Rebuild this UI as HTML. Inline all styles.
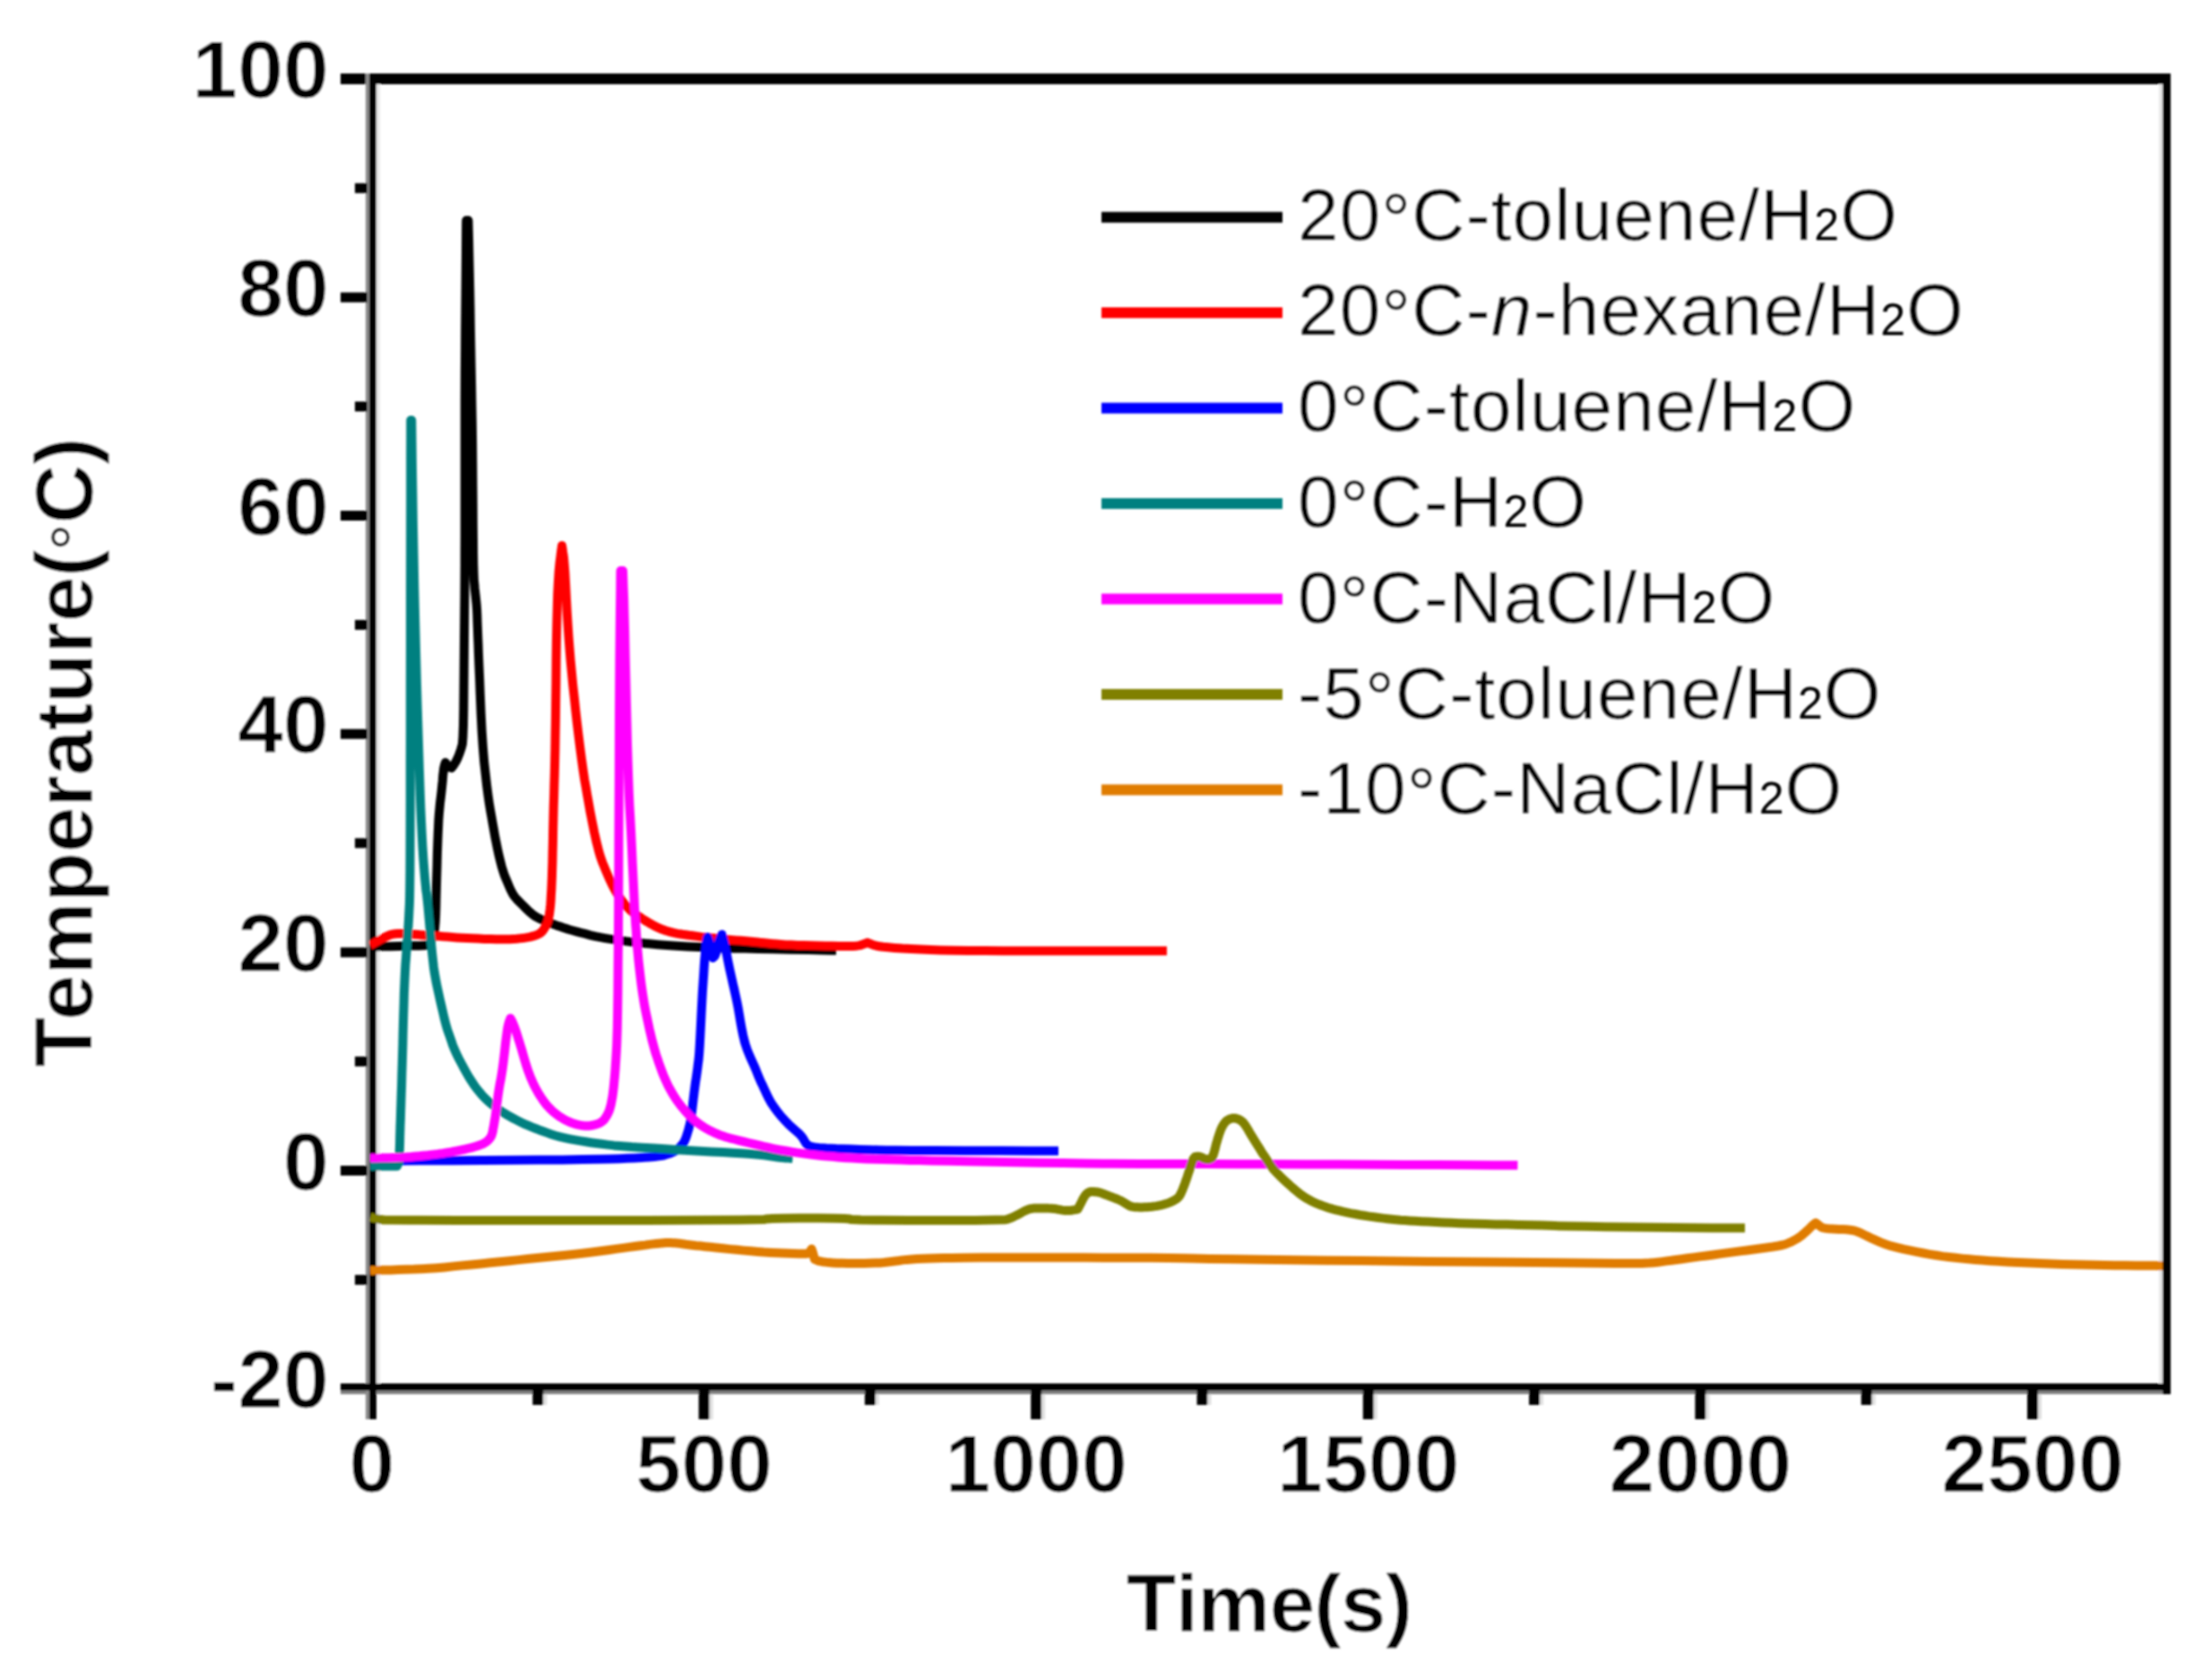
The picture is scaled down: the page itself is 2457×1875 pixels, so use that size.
<!DOCTYPE html>
<html lang="en"><head><meta charset="utf-8"><title>Temperature vs Time</title>
<style>html,body{margin:0;padding:0;background:#fff;overflow:hidden}svg{display:block}text{font-family:"Liberation Sans",Arial,Helvetica,sans-serif;fill:#000;font-kerning:none}.b{font-weight:bold;font-size:91.5px;stroke:#fff;stroke-width:.95px}.l{font-size:82px;letter-spacing:1.05px;stroke:#fff;stroke-width:.5px}.r{stroke-width:.5px}.n{stroke:none}</style></head><body>
<svg width="2457" height="1875" viewBox="0 0 2457 1875">
<rect width="2457" height="1875" fill="#fff"/>
<defs><filter id="soft" x="0" y="0" width="2457" height="1875" filterUnits="userSpaceOnUse"><feGaussianBlur stdDeviation="1.1"/></filter></defs>
<g filter="url(#soft)">
<g fill="#000">
<rect x="380" y="1552" width="2042" height="4" fill="#808080"/>
<rect x="380" y="82" width="2042" height="12"/>
<rect x="408" y="82" width="4" height="1502" fill="#8a8a8a"/>
<rect x="420" y="94" width="4" height="1450" fill="#e8e8e8"/>
<rect x="412" y="82" width="8" height="1502"/>
<rect x="2409" y="94" width="4" height="1450" fill="#e6e6e6"/>
<rect x="2413" y="82" width="9" height="1474"/>
<rect x="380" y="1544" width="2042" height="8"/>
<rect x="396" y="1422.9" width="14" height="11"/>
<rect x="380" y="1301.0" width="30" height="11"/>
<rect x="396" y="1179.2" width="14" height="11"/>
<rect x="380" y="1057.4" width="30" height="11"/>
<rect x="396" y="935.5" width="14" height="11"/>
<rect x="380" y="813.7" width="30" height="11"/>
<rect x="396" y="691.9" width="14" height="11"/>
<rect x="380" y="570.0" width="30" height="11"/>
<rect x="396" y="448.2" width="14" height="11"/>
<rect x="380" y="326.4" width="30" height="11"/>
<rect x="396" y="204.5" width="14" height="11"/>
<rect x="594.3" y="1550" width="12" height="18"/>
<rect x="606.3" y="1556" width="4" height="12" fill="#e0e0e0"/>
<rect x="779.6" y="1550" width="12" height="34"/>
<rect x="791.6" y="1556" width="4" height="28" fill="#e0e0e0"/>
<rect x="964.9" y="1550" width="12" height="18"/>
<rect x="976.9" y="1556" width="4" height="12" fill="#e0e0e0"/>
<rect x="1150.2" y="1550" width="12" height="34"/>
<rect x="1162.2" y="1556" width="4" height="28" fill="#e0e0e0"/>
<rect x="1335.5" y="1550" width="12" height="18"/>
<rect x="1347.5" y="1556" width="4" height="12" fill="#e0e0e0"/>
<rect x="1520.8" y="1550" width="12" height="34"/>
<rect x="1532.8" y="1556" width="4" height="28" fill="#e0e0e0"/>
<rect x="1706.1" y="1550" width="12" height="18"/>
<rect x="1718.1" y="1556" width="4" height="12" fill="#e0e0e0"/>
<rect x="1891.4" y="1550" width="12" height="34"/>
<rect x="1903.4" y="1556" width="4" height="28" fill="#e0e0e0"/>
<rect x="2076.7" y="1550" width="12" height="18"/>
<rect x="2088.7" y="1556" width="4" height="12" fill="#e0e0e0"/>
<rect x="2262.0" y="1550" width="12" height="34"/>
<rect x="2274.0" y="1556" width="4" height="28" fill="#e0e0e0"/>
</g>
<clipPath id="pa"><rect x="412" y="94" width="2001" height="1450"/></clipPath>
<g fill="none" stroke-width="10" stroke-linejoin="round" stroke-linecap="butt" clip-path="url(#pa)">
<path stroke="#000000" d="M413.0,1056.5 L415.3,1056.5 L419.9,1056.4 L426.9,1056.3 L436.1,1056.2 L444.8,1056.0 L452.9,1055.8 L460.5,1055.6 L467.5,1055.4 L472.8,1055.2 L476.2,1055.1 L478.0,1055.0 L478.4,1054.4 L479.1,1053.1 L480.2,1051.2 L481.8,1048.8 L483.0,1045.9 L484.0,1042.6 L484.8,1039.0 L485.2,1035.0 L485.7,1029.4 L486.1,1022.1 L486.4,1013.2 L486.6,1002.8 L486.9,991.5 L487.2,979.5 L487.6,966.8 L487.9,953.2 L488.3,941.4 L488.7,931.1 L489.1,922.5 L489.4,915.5 L489.9,908.7 L490.5,902.1 L491.1,895.6 L491.9,889.4 L492.6,883.2 L493.2,877.2 L493.8,871.4 L494.2,865.6 L494.8,860.9 L495.2,857.3 L495.8,854.8 L496.2,853.2 L496.6,852.1 L496.9,851.4 L497.0,851.0 L497.2,851.3 L497.6,851.9 L498.1,852.9 L498.9,854.1 L499.4,855.1 L499.8,855.7 L500.0,856.0 L500.2,856.1 L500.8,856.2 L501.5,856.4 L502.5,856.6 L503.2,856.8 L503.8,856.9 L504.0,857.0 L504.3,856.6 L504.9,855.7 L505.9,854.4 L507.1,852.6 L508.4,850.6 L509.6,848.2 L510.9,845.5 L512.1,842.5 L513.2,839.5 L514.2,836.5 L515.1,833.5 L515.9,830.5 L516.5,822.6 L517.0,809.7 L517.3,791.9 L517.5,769.1 L517.7,746.8 L517.9,724.8 L518.1,703.1 L518.3,681.9 L518.5,662.8 L518.6,645.9 L518.7,631.2 L518.7,618.8 L518.8,598.1 L518.8,569.4 L518.8,532.5 L518.8,487.5 L518.8,448.8 L518.9,416.2 L519.1,390.0 L519.2,370.0 L519.4,349.1 L519.6,327.4 L519.8,304.8 L520.0,281.2 L520.1,263.6 L520.2,251.9 L520.3,246.0 L520.4,246.0 L520.7,246.0 L521.1,246.0 L521.7,246.0 L522.1,246.0 L522.4,246.0 L522.5,246.0 L522.6,250.0 L522.8,258.0 L523.1,270.0 L523.4,286.0 L523.8,303.6 L524.2,322.9 L524.6,343.8 L524.9,366.2 L525.3,388.1 L525.7,409.4 L526.1,430.0 L526.4,450.0 L526.8,471.2 L527.1,493.8 L527.3,517.5 L527.5,542.5 L527.7,565.0 L527.8,585.0 L528.0,602.5 L528.1,617.5 L528.3,630.0 L528.6,640.0 L528.9,647.5 L529.4,652.5 L529.8,657.2 L530.3,661.8 L530.8,666.0 L531.2,670.0 L531.7,674.8 L532.1,680.4 L532.4,686.9 L532.6,694.1 L532.9,701.9 L533.2,710.3 L533.6,719.2 L533.9,728.8 L534.4,741.2 L535.1,756.8 L535.8,775.2 L536.7,796.8 L537.7,816.4 L538.9,834.3 L540.2,850.4 L541.8,864.6 L543.2,877.1 L544.6,887.9 L545.9,896.9 L547.1,904.1 L548.4,911.3 L549.6,918.4 L550.9,925.5 L552.1,932.5 L553.5,939.5 L554.9,946.5 L556.4,953.5 L558.1,960.5 L559.7,966.8 L561.3,972.2 L562.9,977.0 L564.6,981.0 L566.2,984.8 L567.7,988.4 L569.2,991.9 L570.8,995.1 L572.4,998.1 L574.3,1000.9 L576.4,1003.4 L578.6,1005.6 L581.0,1008.0 L583.5,1010.5 L586.1,1013.1 L588.9,1015.9 L591.4,1018.2 L593.8,1020.2 L596.0,1021.9 L598.0,1023.1 L600.4,1024.4 L603.3,1025.8 L606.6,1027.2 L610.4,1028.8 L614.1,1030.2 L617.7,1031.6 L621.2,1032.9 L624.8,1034.1 L628.2,1035.3 L631.8,1036.4 L635.2,1037.5 L638.8,1038.5 L642.9,1039.6 L647.6,1040.9 L653.0,1042.2 L659.0,1043.8 L664.7,1045.1 L670.1,1046.2 L675.1,1047.1 L679.9,1047.9 L684.9,1048.6 L690.1,1049.4 L695.6,1050.1 L701.4,1050.9 L708.1,1051.7 L715.7,1052.5 L724.2,1053.3 L733.8,1054.2 L744.1,1055.0 L755.4,1055.8 L767.5,1056.4 L780.5,1057.1 L793.4,1057.6 L806.1,1058.0 L818.8,1058.4 L831.2,1058.6 L845.8,1058.9 L862.4,1059.3 L881.1,1059.7 L901.9,1060.1 L917.4,1060.5 L927.8,1060.7 L933.0,1060.8"/>
<path stroke="#FF0000" d="M413.0,1055.0 L413.6,1054.7 L414.7,1054.1 L416.4,1053.1 L418.6,1051.9 L420.9,1050.6 L423.1,1049.4 L425.4,1048.1 L427.6,1046.9 L429.8,1045.8 L431.9,1044.8 L434.0,1043.9 L436.0,1043.1 L438.3,1042.6 L440.9,1042.2 L443.9,1042.0 L447.1,1042.0 L450.5,1042.1 L454.0,1042.2 L457.6,1042.5 L461.4,1042.8 L465.4,1043.1 L469.8,1043.4 L474.5,1043.8 L479.5,1044.1 L484.5,1044.4 L489.5,1044.8 L494.5,1045.2 L499.5,1045.6 L504.7,1046.0 L510.1,1046.4 L515.6,1046.8 L521.4,1047.1 L527.4,1047.3 L533.8,1047.6 L540.5,1047.9 L547.5,1048.1 L553.8,1048.3 L559.4,1048.3 L564.4,1048.3 L568.6,1048.2 L572.6,1048.0 L576.4,1047.8 L579.9,1047.4 L583.1,1047.1 L586.2,1046.6 L589.1,1046.1 L591.8,1045.6 L594.2,1044.9 L596.5,1044.3 L598.5,1043.6 L600.2,1042.9 L601.8,1042.1 L603.2,1041.1 L604.6,1039.9 L605.9,1038.4 L607.1,1036.6 L608.2,1034.8 L609.2,1032.9 L610.1,1031.0 L610.9,1029.0 L611.6,1026.8 L612.2,1024.2 L612.8,1021.5 L613.2,1018.5 L613.7,1014.8 L614.2,1010.2 L614.6,1005.0 L614.9,999.0 L615.3,992.6 L615.6,985.9 L615.9,978.8 L616.1,971.2 L616.4,962.3 L616.6,951.9 L616.9,940.1 L617.1,926.9 L617.4,913.8 L617.7,900.9 L618.1,888.2 L618.4,875.8 L618.8,862.8 L619.1,849.4 L619.4,835.6 L619.6,821.4 L619.9,804.4 L620.1,784.8 L620.4,762.5 L620.6,737.5 L620.9,715.0 L621.3,695.0 L621.8,677.5 L622.2,662.5 L622.9,649.3 L623.6,637.9 L624.5,628.4 L625.5,620.6 L626.2,614.8 L626.8,610.9 L627.0,609.0 L627.2,610.2 L627.6,612.8 L628.1,616.5 L628.9,621.5 L629.6,629.1 L630.4,639.4 L631.1,652.2 L631.9,667.8 L632.7,682.6 L633.6,696.9 L634.5,710.5 L635.5,723.5 L636.6,736.8 L637.9,750.4 L639.2,764.4 L640.8,778.6 L642.3,792.9 L643.9,807.1 L645.6,821.4 L647.4,835.6 L649.1,848.5 L650.7,860.0 L652.2,870.1 L653.8,878.9 L655.1,886.8 L656.4,893.9 L657.5,900.2 L658.5,905.8 L659.6,911.4 L660.7,917.1 L661.9,923.0 L663.1,929.0 L664.4,934.7 L665.6,940.1 L666.9,945.1 L668.1,949.9 L669.4,954.4 L670.8,958.6 L672.2,962.6 L673.8,966.4 L675.4,970.3 L677.1,974.4 L679.0,978.8 L681.0,983.2 L683.0,987.4 L685.0,991.3 L687.0,994.9 L689.0,998.1 L691.1,1001.2 L693.2,1004.2 L695.4,1007.1 L697.6,1009.9 L699.8,1012.3 L701.8,1014.4 L703.6,1016.1 L705.4,1017.6 L707.2,1019.0 L709.1,1020.3 L711.0,1021.7 L713.0,1023.0 L715.0,1024.3 L717.0,1025.6 L719.0,1026.9 L721.0,1028.1 L723.0,1029.3 L725.0,1030.5 L727.0,1031.6 L729.0,1032.7 L731.0,1033.7 L733.0,1034.7 L735.0,1035.6 L737.0,1036.5 L739.0,1037.3 L741.0,1038.0 L743.0,1038.7 L745.0,1039.3 L747.0,1039.9 L749.0,1040.4 L751.0,1040.9 L753.0,1041.3 L755.4,1041.8 L758.1,1042.3 L761.2,1042.8 L764.8,1043.2 L768.6,1043.8 L772.9,1044.3 L777.5,1044.9 L782.5,1045.6 L787.7,1046.2 L793.1,1046.8 L798.6,1047.3 L804.4,1047.9 L810.1,1048.4 L815.7,1048.9 L821.2,1049.4 L826.8,1049.8 L832.1,1050.3 L837.4,1050.8 L842.5,1051.2 L847.5,1051.8 L852.4,1052.2 L857.1,1052.7 L861.8,1053.2 L866.2,1053.6 L871.3,1054.0 L876.9,1054.4 L883.1,1054.6 L889.9,1054.9 L897.1,1055.1 L904.7,1055.3 L912.8,1055.5 L921.2,1055.7 L928.9,1055.8 L935.8,1056.0 L941.9,1056.0 L947.1,1056.0 L951.5,1055.9 L955.0,1055.7 L957.6,1055.4 L959.4,1055.1 L961.1,1054.6 L962.7,1054.1 L964.2,1053.6 L965.8,1052.9 L966.9,1052.5 L967.6,1052.2 L968.0,1052.0 L968.4,1052.2 L969.3,1052.6 L970.6,1053.1 L972.4,1053.9 L974.3,1054.6 L976.4,1055.2 L978.8,1055.8 L981.2,1056.2 L985.3,1056.8 L990.9,1057.3 L998.1,1057.9 L1006.9,1058.6 L1016.4,1059.1 L1026.8,1059.6 L1038.0,1060.1 L1050.0,1060.4 L1064.1,1060.7 L1080.4,1061.0 L1098.8,1061.1 L1119.2,1061.2 L1144.1,1061.2 L1173.4,1061.3 L1207.0,1061.3 L1245.0,1061.3 L1273.5,1061.3 L1292.5,1061.3 L1302.0,1061.3"/>
<path stroke="#0000FF" d="M413.0,1295.5 L422.2,1295.5 L440.6,1295.4 L468.1,1295.3 L504.9,1295.2 L539.2,1295.0 L571.1,1294.8 L600.5,1294.6 L627.5,1294.4 L650.1,1294.1 L668.2,1293.8 L681.9,1293.5 L691.1,1293.2 L699.9,1292.8 L708.3,1292.4 L716.2,1292.0 L723.8,1291.5 L730.1,1291.0 L735.2,1290.4 L739.1,1289.8 L741.9,1289.1 L744.4,1288.3 L746.8,1287.5 L749.0,1286.7 L751.0,1285.8 L752.9,1284.8 L754.6,1283.7 L756.2,1282.4 L757.8,1281.1 L759.1,1279.7 L760.4,1278.4 L761.5,1277.1 L762.5,1275.8 L763.5,1274.0 L764.5,1271.9 L765.5,1269.4 L766.5,1266.4 L767.4,1263.4 L768.3,1260.4 L769.1,1257.4 L769.9,1254.3 L770.7,1249.8 L771.6,1244.0 L772.5,1236.7 L773.5,1228.0 L774.4,1220.3 L775.3,1213.4 L776.1,1207.5 L776.9,1202.5 L777.6,1197.5 L778.3,1192.4 L778.9,1187.4 L779.6,1182.3 L780.2,1175.2 L780.8,1165.9 L781.4,1154.6 L782.1,1141.1 L782.7,1128.6 L783.3,1116.9 L783.9,1106.0 L784.6,1096.0 L785.2,1086.9 L785.7,1078.8 L786.2,1071.6 L786.8,1065.4 L787.2,1060.1 L787.8,1055.7 L788.2,1052.2 L788.8,1049.8 L789.1,1047.9 L789.4,1046.6 L789.5,1046.0 L789.7,1046.4 L790.0,1047.3 L790.4,1048.6 L791.1,1050.4 L791.8,1052.7 L792.5,1055.6 L793.3,1059.0 L794.2,1063.0 L794.8,1066.0 L795.3,1068.0 L795.5,1069.0 L795.7,1068.8 L796.1,1068.4 L796.6,1067.9 L797.4,1067.1 L798.2,1065.6 L799.0,1063.4 L799.8,1060.4 L800.7,1056.6 L801.6,1053.3 L802.4,1050.4 L803.3,1048.0 L804.2,1046.0 L804.8,1044.5 L805.3,1043.5 L805.5,1043.0 L805.7,1043.8 L806.2,1045.4 L806.8,1047.9 L807.7,1051.1 L808.7,1055.1 L809.7,1059.9 L810.9,1065.4 L812.1,1071.6 L813.3,1077.6 L814.5,1083.2 L815.7,1088.5 L816.8,1093.5 L817.9,1098.5 L819.1,1103.5 L820.2,1108.5 L821.3,1113.5 L822.4,1118.6 L823.4,1123.7 L824.3,1128.9 L825.2,1134.1 L826.0,1139.1 L826.8,1143.7 L827.6,1148.0 L828.4,1152.0 L829.2,1155.8 L830.0,1159.2 L830.8,1162.5 L831.7,1165.5 L832.7,1168.5 L833.7,1171.5 L834.9,1174.5 L836.1,1177.5 L837.3,1180.3 L838.4,1182.8 L839.5,1185.2 L840.5,1187.3 L841.6,1189.7 L842.7,1192.3 L843.9,1195.2 L845.1,1198.3 L846.4,1201.5 L847.8,1204.7 L849.2,1207.9 L850.8,1211.1 L852.2,1214.3 L853.8,1217.6 L855.2,1220.7 L856.8,1223.9 L858.3,1226.9 L859.9,1229.8 L861.6,1232.5 L863.4,1235.1 L865.1,1237.6 L866.9,1240.0 L868.6,1242.2 L870.4,1244.4 L872.2,1246.5 L874.1,1248.6 L876.0,1250.8 L878.0,1252.8 L879.9,1254.8 L881.8,1256.6 L883.6,1258.2 L885.4,1259.8 L887.0,1261.2 L888.5,1262.5 L889.9,1263.7 L891.1,1264.8 L892.3,1265.9 L893.3,1267.1 L894.3,1268.2 L895.2,1269.3 L896.0,1270.5 L896.8,1271.7 L897.4,1272.9 L898.1,1274.1 L898.8,1275.3 L899.6,1276.3 L900.5,1277.3 L901.5,1278.2 L903.0,1279.0 L905.0,1279.6 L907.5,1280.2 L910.5,1280.6 L913.9,1281.0 L917.8,1281.3 L922.1,1281.6 L926.9,1281.7 L933.0,1282.0 L940.5,1282.2 L949.4,1282.6 L959.6,1282.9 L969.8,1283.2 L979.8,1283.5 L989.6,1283.7 L999.4,1283.8 L1017.1,1283.9 L1042.9,1284.1 L1076.6,1284.2 L1118.4,1284.3 L1149.7,1284.4 L1170.6,1284.5 L1181.0,1284.5"/>
<path stroke="#008080" d="M413.0,1301.5 L414.9,1301.5 L418.6,1301.5 L424.2,1301.5 L431.8,1301.5 L437.4,1301.5 L441.1,1301.5 L443.0,1301.5 L443.1,1301.2 L443.4,1300.7 L443.8,1299.8 L444.4,1298.7 L444.8,1297.1 L445.2,1295.0 L445.4,1292.5 L445.6,1289.5 L445.7,1285.7 L445.9,1281.1 L446.1,1275.6 L446.2,1269.4 L446.4,1262.8 L446.6,1255.9 L446.9,1248.8 L447.1,1241.2 L447.4,1232.5 L447.7,1222.5 L448.1,1211.2 L448.4,1198.8 L448.8,1186.9 L449.1,1175.6 L449.4,1165.0 L449.6,1155.0 L449.9,1144.4 L450.2,1133.1 L450.6,1121.2 L450.9,1108.8 L451.4,1097.2 L451.9,1086.6 L452.4,1076.9 L453.1,1068.1 L453.7,1059.4 L454.3,1050.6 L454.9,1041.9 L455.6,1033.1 L456.1,1024.7 L456.5,1016.6 L456.9,1008.8 L457.1,1001.2 L457.3,988.8 L457.5,971.2 L457.6,948.8 L457.7,921.2 L457.8,889.4 L457.8,853.1 L457.9,812.5 L457.9,767.5 L458.0,719.3 L458.0,667.9 L458.1,613.4 L458.2,555.6 L458.2,512.3 L458.3,483.4 L458.3,469.0 L458.4,469.0 L458.5,469.0 L458.7,469.0 L458.9,469.0 L459.1,469.0 L459.2,469.0 L459.3,469.0 L459.4,477.2 L459.6,493.6 L459.9,518.1 L460.4,550.9 L460.9,584.8 L461.6,619.9 L462.3,656.2 L463.2,693.8 L464.1,730.0 L465.0,765.0 L466.0,798.8 L467.0,831.2 L467.9,859.4 L468.7,883.1 L469.4,902.5 L470.1,917.5 L470.8,931.7 L471.5,945.1 L472.3,957.6 L473.2,969.4 L474.0,979.3 L474.8,987.4 L475.4,993.8 L476.1,998.2 L476.7,1003.9 L477.4,1010.6 L478.1,1018.4 L478.9,1027.3 L479.7,1036.3 L480.5,1045.5 L481.3,1054.7 L482.2,1064.0 L483.1,1072.3 L483.9,1079.4 L484.8,1085.5 L485.7,1090.5 L486.6,1095.5 L487.6,1100.5 L488.7,1105.5 L489.8,1110.5 L491.0,1116.0 L492.4,1122.0 L493.9,1128.5 L495.5,1135.5 L497.0,1141.4 L498.3,1146.3 L499.5,1150.1 L500.5,1152.9 L501.6,1155.9 L502.7,1159.1 L503.9,1162.6 L505.1,1166.4 L506.9,1170.7 L509.1,1175.7 L511.8,1181.2 L515.0,1187.3 L518.0,1192.9 L520.9,1198.1 L523.6,1202.7 L526.2,1206.8 L528.8,1210.8 L531.6,1214.6 L534.5,1218.2 L537.5,1221.8 L540.4,1224.9 L543.3,1227.8 L546.1,1230.3 L548.9,1232.5 L551.4,1234.5 L553.8,1236.3 L556.0,1238.0 L558.0,1239.4 L560.3,1241.0 L562.9,1242.6 L565.9,1244.4 L569.1,1246.2 L572.4,1248.0 L575.6,1249.7 L578.9,1251.4 L582.1,1253.0 L585.6,1254.6 L589.4,1256.2 L593.4,1257.9 L597.6,1259.5 L601.9,1261.2 L606.3,1262.8 L610.8,1264.4 L615.2,1266.0 L620.1,1267.5 L625.2,1268.9 L630.6,1270.1 L636.4,1271.3 L642.1,1272.4 L647.9,1273.4 L653.6,1274.3 L659.4,1275.2 L665.4,1276.0 L671.6,1276.8 L678.1,1277.6 L684.9,1278.4 L691.6,1279.0 L698.3,1279.6 L704.9,1280.1 L711.6,1280.4 L719.9,1280.9 L729.9,1281.6 L741.6,1282.3 L754.9,1283.2 L768.2,1284.0 L781.2,1284.8 L794.1,1285.4 L806.9,1286.1 L817.9,1286.7 L827.3,1287.2 L835.0,1287.8 L841.0,1288.2 L846.8,1288.8 L852.2,1289.4 L857.5,1290.1 L862.5,1290.9 L867.2,1291.5 L871.5,1292.0 L875.4,1292.4 L879.1,1292.6 L881.8,1292.8 L883.6,1292.9 L884.5,1293.0"/>
<path stroke="#FF00FF" d="M413.0,1292.5 L415.0,1292.5 L419.0,1292.4 L425.0,1292.3 L433.0,1292.2 L440.4,1292.0 L447.1,1291.8 L453.2,1291.4 L458.8,1291.1 L464.2,1290.6 L469.6,1290.1 L474.9,1289.6 L480.1,1288.9 L484.7,1288.4 L488.6,1287.9 L491.8,1287.4 L494.2,1287.1 L497.0,1286.6 L500.0,1286.1 L503.2,1285.6 L506.8,1284.9 L510.0,1284.3 L513.0,1283.8 L515.8,1283.2 L518.2,1282.8 L520.6,1282.2 L522.9,1281.7 L525.0,1281.2 L527.0,1280.6 L528.9,1280.1 L530.8,1279.5 L532.6,1278.9 L534.4,1278.4 L536.0,1277.8 L537.5,1277.2 L538.9,1276.6 L540.1,1275.9 L541.3,1275.2 L542.4,1274.5 L543.5,1273.7 L544.5,1272.8 L545.4,1271.9 L546.3,1270.8 L547.1,1269.7 L547.9,1268.5 L548.6,1266.9 L549.2,1265.0 L549.8,1262.7 L550.2,1260.0 L550.8,1257.2 L551.3,1254.2 L551.8,1251.1 L552.4,1247.9 L553.0,1243.9 L553.6,1239.3 L554.2,1234.0 L555.0,1228.0 L555.8,1222.0 L556.7,1216.0 L557.7,1210.0 L558.9,1204.0 L559.9,1198.0 L560.8,1192.0 L561.6,1186.0 L562.3,1180.0 L563.0,1174.2 L563.6,1168.6 L564.2,1163.1 L564.9,1157.9 L565.5,1153.4 L566.0,1149.6 L566.5,1146.6 L567.0,1144.4 L567.5,1142.4 L568.0,1140.7 L568.4,1139.3 L568.9,1138.2 L569.2,1137.3 L569.4,1136.8 L569.5,1136.5 L569.7,1136.8 L570.0,1137.3 L570.4,1138.2 L571.1,1139.3 L571.8,1140.7 L572.5,1142.4 L573.3,1144.4 L574.2,1146.6 L575.1,1149.1 L576.0,1151.7 L576.9,1154.5 L577.8,1157.5 L578.7,1160.4 L579.6,1163.1 L580.4,1165.8 L581.1,1168.2 L581.9,1170.8 L582.7,1173.5 L583.5,1176.3 L584.3,1179.2 L585.1,1182.0 L586.0,1184.8 L586.8,1187.6 L587.7,1190.4 L588.6,1193.1 L589.5,1195.8 L590.5,1198.4 L591.5,1201.1 L592.5,1203.6 L593.6,1206.1 L594.7,1208.6 L595.8,1210.9 L597.0,1213.2 L598.2,1215.5 L599.4,1217.7 L600.6,1219.8 L601.9,1221.9 L603.2,1224.0 L604.6,1226.0 L605.9,1228.0 L607.3,1229.9 L608.8,1231.8 L610.2,1233.6 L611.8,1235.2 L613.3,1236.9 L614.8,1238.4 L616.4,1239.9 L618.1,1241.4 L619.7,1242.7 L621.4,1244.0 L623.1,1245.3 L624.9,1246.5 L626.7,1247.6 L628.5,1248.7 L630.3,1249.8 L632.2,1250.7 L634.1,1251.6 L635.9,1252.4 L637.8,1253.2 L639.7,1253.8 L641.5,1254.4 L643.3,1254.9 L645.1,1255.3 L646.9,1255.7 L648.6,1256.0 L650.3,1256.2 L651.9,1256.4 L653.6,1256.5 L655.1,1256.5 L656.5,1256.5 L657.9,1256.4 L659.1,1256.2 L660.4,1256.0 L661.6,1255.8 L662.9,1255.6 L664.1,1255.2 L665.3,1254.9 L666.4,1254.5 L667.5,1254.1 L668.5,1253.7 L669.5,1253.2 L670.4,1252.6 L671.3,1252.1 L672.2,1251.4 L673.0,1250.8 L673.8,1250.0 L674.4,1249.2 L675.1,1248.3 L675.7,1247.3 L676.5,1246.1 L677.3,1244.8 L678.1,1243.2 L678.9,1241.6 L679.7,1239.7 L680.4,1237.6 L681.0,1235.4 L681.7,1232.9 L682.2,1230.1 L682.8,1227.1 L683.4,1223.9 L683.9,1220.2 L684.4,1216.2 L684.9,1211.9 L685.3,1207.1 L685.8,1202.3 L686.2,1197.4 L686.6,1192.5 L686.9,1187.5 L687.3,1181.8 L687.7,1175.2 L688.1,1168.0 L688.4,1160.0 L688.8,1147.3 L689.1,1129.9 L689.4,1107.8 L689.6,1080.9 L689.9,1050.8 L690.1,1017.3 L690.3,980.4 L690.4,940.3 L690.6,902.0 L690.8,865.7 L690.9,831.2 L691.0,798.8 L691.2,767.3 L691.4,736.9 L691.7,707.6 L692.0,679.4 L692.3,658.2 L692.4,644.1 L692.5,637.0 L692.7,637.0 L693.0,637.0 L693.4,637.0 L694.1,637.0 L694.5,637.0 L694.8,637.0 L695.0,637.0 L695.1,640.1 L695.3,646.2 L695.6,655.4 L696.1,667.6 L696.5,683.9 L697.1,704.3 L697.6,728.8 L698.3,757.2 L698.9,783.6 L699.5,807.9 L700.0,830.0 L700.6,850.0 L701.2,868.4 L701.8,885.0 L702.5,900.1 L703.3,913.5 L704.1,928.6 L704.9,945.3 L705.7,963.8 L706.7,983.8 L707.5,1000.7 L708.1,1014.2 L708.8,1024.5 L709.2,1031.5 L709.8,1038.3 L710.2,1045.0 L710.8,1051.6 L711.2,1057.9 L711.8,1064.4 L712.4,1071.1 L713.1,1077.8 L713.9,1084.7 L714.7,1091.5 L715.5,1098.2 L716.4,1104.8 L717.4,1111.2 L718.4,1117.7 L719.5,1124.1 L720.8,1130.4 L722.1,1136.6 L723.4,1142.8 L724.7,1148.8 L726.1,1154.6 L727.4,1160.4 L728.9,1165.9 L730.4,1171.3 L731.9,1176.5 L733.6,1181.5 L735.2,1186.4 L736.9,1191.1 L738.6,1195.7 L740.3,1200.1 L742.1,1204.3 L743.9,1208.3 L745.7,1212.1 L747.7,1215.7 L749.6,1219.1 L751.6,1222.5 L753.7,1225.7 L755.8,1228.9 L758.0,1231.9 L760.3,1234.9 L762.8,1237.9 L765.2,1240.7 L767.8,1243.5 L770.5,1246.2 L773.3,1248.8 L776.1,1251.2 L779.0,1253.6 L782.0,1255.8 L785.1,1257.8 L788.3,1259.7 L791.5,1261.5 L794.8,1263.1 L798.2,1264.7 L801.8,1266.2 L805.6,1267.6 L809.8,1269.0 L814.4,1270.3 L819.4,1271.5 L824.5,1272.8 L829.9,1274.1 L835.5,1275.5 L841.3,1276.9 L846.7,1278.2 L851.7,1279.4 L856.4,1280.4 L860.6,1281.4 L865.0,1282.3 L869.5,1283.2 L874.1,1284.0 L878.9,1284.8 L883.8,1285.6 L888.8,1286.4 L893.9,1287.1 L899.1,1287.9 L904.7,1288.6 L910.6,1289.3 L916.8,1289.9 L923.2,1290.6 L929.9,1291.1 L936.6,1291.7 L943.4,1292.2 L950.3,1292.6 L958.0,1293.0 L966.3,1293.4 L975.4,1293.8 L985.3,1294.1 L995.2,1294.3 L1005.2,1294.6 L1015.4,1294.9 L1025.6,1295.1 L1040.0,1295.4 L1058.5,1295.8 L1081.1,1296.3 L1107.9,1296.8 L1134.3,1297.3 L1160.4,1297.7 L1186.2,1298.1 L1211.8,1298.5 L1240.2,1298.8 L1271.8,1298.9 L1306.2,1299.1 L1343.8,1299.1 L1381.2,1299.2 L1418.8,1299.3 L1456.2,1299.4 L1493.8,1299.6 L1530.8,1299.7 L1567.5,1299.9 L1603.8,1300.1 L1639.6,1300.3 L1666.5,1300.4 L1684.4,1300.5 L1693.4,1300.6"/>
<path stroke="#808000" d="M413.0,1358.3 L413.7,1358.5 L415.1,1358.8 L417.1,1359.3 L419.9,1360.0 L422.4,1360.6 L424.8,1361.0 L427.0,1361.4 L429.0,1361.6 L456.6,1361.8 L509.7,1361.9 L588.4,1362.0 L692.6,1362.0 L771.4,1361.8 L824.6,1361.6 L852.4,1361.1 L854.6,1360.5 L861.9,1360.0 L874.1,1359.8 L891.4,1359.6 L913.6,1359.6 L930.6,1359.8 L942.2,1360.0 L948.5,1360.5 L949.5,1361.1 L960.8,1361.6 L982.2,1361.8 L1014.0,1362.0 L1056.0,1362.0 L1088.0,1361.9 L1110.0,1361.6 L1122.0,1361.2 L1124.0,1360.8 L1126.1,1360.1 L1128.4,1359.2 L1130.8,1358.1 L1133.2,1356.9 L1135.6,1355.7 L1137.7,1354.6 L1139.6,1353.5 L1141.4,1352.5 L1143.1,1351.6 L1144.9,1350.8 L1146.6,1350.1 L1148.4,1349.4 L1150.6,1349.0 L1153.2,1348.6 L1156.2,1348.4 L1159.8,1348.4 L1163.2,1348.4 L1166.6,1348.4 L1169.9,1348.6 L1173.1,1348.7 L1176.1,1349.0 L1178.7,1349.3 L1181.0,1349.8 L1183.0,1350.2 L1185.1,1350.6 L1187.2,1350.9 L1189.4,1351.0 L1191.6,1351.0 L1193.8,1350.9 L1195.9,1350.7 L1197.8,1350.4 L1199.8,1350.1 L1201.2,1349.8 L1202.1,1349.6 L1202.6,1349.5 L1202.8,1349.1 L1203.2,1348.3 L1203.9,1347.1 L1204.7,1345.4 L1205.6,1343.8 L1206.4,1342.1 L1207.3,1340.4 L1208.1,1338.6 L1209.0,1337.1 L1209.8,1335.7 L1210.6,1334.5 L1211.3,1333.5 L1212.1,1332.6 L1213.0,1331.9 L1213.8,1331.2 L1214.7,1330.8 L1215.7,1330.4 L1216.7,1330.1 L1217.9,1330.0 L1219.1,1330.0 L1220.4,1330.0 L1221.8,1330.2 L1223.2,1330.3 L1224.8,1330.5 L1226.3,1330.8 L1227.9,1331.3 L1229.6,1331.8 L1231.4,1332.5 L1233.1,1333.2 L1234.8,1333.8 L1236.5,1334.4 L1238.2,1335.1 L1240.1,1335.8 L1242.2,1336.6 L1244.6,1337.5 L1247.1,1338.5 L1249.4,1339.5 L1251.5,1340.5 L1253.2,1341.5 L1254.8,1342.5 L1256.2,1343.4 L1257.7,1344.3 L1259.1,1345.1 L1260.4,1345.9 L1262.1,1346.5 L1264.1,1346.9 L1266.4,1347.2 L1269.1,1347.3 L1271.7,1347.4 L1274.4,1347.4 L1277.1,1347.3 L1279.9,1347.2 L1282.6,1347.0 L1285.2,1346.8 L1287.8,1346.4 L1290.2,1346.1 L1292.7,1345.6 L1295.1,1345.1 L1297.4,1344.6 L1299.6,1343.9 L1301.8,1343.3 L1303.8,1342.6 L1305.6,1341.9 L1307.4,1341.1 L1309.0,1340.3 L1310.6,1339.4 L1312.1,1338.5 L1313.6,1337.5 L1314.8,1336.3 L1316.0,1334.9 L1316.9,1333.4 L1317.8,1331.6 L1318.6,1329.8 L1319.5,1327.8 L1320.3,1325.6 L1321.2,1323.4 L1322.2,1320.7 L1323.3,1317.5 L1324.6,1313.8 L1325.9,1309.7 L1327.2,1306.0 L1328.2,1302.8 L1329.1,1299.9 L1329.9,1297.6 L1330.6,1295.6 L1331.3,1294.0 L1331.9,1292.9 L1332.6,1292.1 L1333.0,1291.6 L1333.3,1291.2 L1333.5,1291.0 L1333.8,1291.0 L1334.5,1290.9 L1335.5,1290.8 L1336.8,1290.7 L1338.1,1290.8 L1339.4,1291.1 L1340.8,1291.6 L1342.1,1292.4 L1343.3,1293.0 L1344.6,1293.4 L1345.9,1293.7 L1347.1,1293.8 L1348.3,1293.8 L1349.3,1293.6 L1350.3,1293.2 L1351.2,1292.8 L1351.8,1292.4 L1352.3,1292.1 L1352.5,1292.0 L1352.6,1291.7 L1352.9,1291.1 L1353.2,1290.1 L1353.8,1288.9 L1354.2,1287.4 L1354.8,1285.8 L1355.2,1284.0 L1355.8,1282.0 L1356.3,1279.9 L1356.8,1277.8 L1357.4,1275.6 L1358.1,1273.4 L1358.7,1271.1 L1359.4,1268.9 L1360.1,1266.6 L1360.9,1264.4 L1361.6,1262.3 L1362.4,1260.4 L1363.1,1258.8 L1363.9,1257.2 L1364.7,1255.8 L1365.5,1254.5 L1366.4,1253.3 L1367.4,1252.2 L1368.3,1251.2 L1369.3,1250.4 L1370.4,1249.8 L1371.4,1249.2 L1372.5,1248.8 L1373.5,1248.5 L1374.5,1248.2 L1375.5,1248.0 L1376.6,1247.9 L1377.7,1248.0 L1378.9,1248.2 L1380.1,1248.5 L1381.3,1248.9 L1382.5,1249.4 L1383.7,1250.1 L1384.8,1250.8 L1385.9,1251.7 L1387.1,1252.8 L1388.2,1254.1 L1389.3,1255.7 L1390.5,1257.4 L1391.7,1259.3 L1392.9,1261.3 L1394.1,1263.5 L1395.8,1266.3 L1397.8,1269.6 L1400.1,1273.4 L1402.9,1277.9 L1405.4,1281.8 L1407.6,1285.4 L1409.6,1288.4 L1411.4,1291.1 L1413.1,1293.7 L1414.8,1296.2 L1416.5,1298.8 L1418.1,1301.2 L1419.9,1303.7 L1421.8,1306.0 L1423.8,1308.2 L1425.9,1310.3 L1427.9,1312.4 L1430.0,1314.4 L1432.0,1316.3 L1434.0,1318.2 L1436.0,1320.0 L1438.0,1321.8 L1440.0,1323.6 L1442.0,1325.4 L1444.0,1327.1 L1446.0,1328.8 L1448.0,1330.4 L1450.0,1332.1 L1452.1,1333.6 L1454.2,1335.1 L1456.4,1336.6 L1458.6,1337.9 L1460.9,1339.2 L1463.3,1340.5 L1465.8,1341.7 L1468.2,1342.8 L1470.9,1343.9 L1473.8,1345.0 L1476.9,1346.1 L1480.1,1347.3 L1483.5,1348.4 L1486.9,1349.4 L1490.5,1350.3 L1494.1,1351.2 L1498.1,1352.2 L1502.5,1353.1 L1507.2,1354.1 L1512.4,1355.0 L1517.5,1356.0 L1522.6,1356.8 L1527.7,1357.6 L1532.8,1358.3 L1537.9,1359.0 L1542.9,1359.6 L1547.8,1360.2 L1552.7,1360.7 L1557.7,1361.2 L1562.7,1361.7 L1567.9,1362.1 L1573.1,1362.4 L1579.2,1362.8 L1586.1,1363.2 L1593.8,1363.6 L1602.2,1364.1 L1610.8,1364.5 L1619.4,1364.8 L1628.1,1365.2 L1636.9,1365.5 L1646.6,1365.8 L1657.2,1366.1 L1668.8,1366.4 L1681.2,1366.6 L1694.1,1366.9 L1707.3,1367.3 L1720.9,1367.6 L1734.8,1368.1 L1751.2,1368.5 L1769.9,1368.8 L1791.1,1369.2 L1814.6,1369.5 L1838.4,1369.8 L1862.3,1370.0 L1886.4,1370.2 L1910.6,1370.4 L1928.8,1370.5 L1940.9,1370.6 L1947.0,1370.6"/>
<path stroke="#E07B06" d="M413.0,1418.0 L415.3,1417.9 L419.9,1417.8 L426.9,1417.6 L436.1,1417.4 L445.0,1417.1 L453.6,1416.8 L461.9,1416.6 L469.8,1416.2 L478.1,1415.8 L486.9,1415.2 L496.1,1414.4 L505.6,1413.4 L515.5,1412.4 L525.8,1411.4 L536.3,1410.4 L547.2,1409.3 L557.9,1408.2 L568.4,1407.2 L578.7,1406.1 L588.8,1405.1 L599.0,1404.0 L609.2,1403.0 L619.4,1402.0 L629.6,1401.0 L639.2,1400.0 L648.2,1399.0 L656.6,1398.0 L664.4,1397.0 L672.1,1396.0 L679.8,1395.0 L687.4,1393.9 L695.1,1392.9 L702.1,1391.9 L708.6,1391.0 L714.6,1390.2 L719.9,1389.6 L724.7,1388.9 L728.9,1388.4 L732.5,1388.0 L735.5,1387.7 L738.2,1387.4 L740.6,1387.2 L742.8,1387.1 L744.6,1387.1 L746.5,1387.1 L748.5,1387.1 L750.6,1387.2 L752.8,1387.3 L755.3,1387.5 L758.1,1387.8 L761.2,1388.2 L764.8,1388.8 L768.5,1389.2 L772.5,1389.7 L776.8,1390.2 L781.2,1390.6 L786.5,1391.2 L792.5,1391.8 L799.2,1392.5 L806.8,1393.3 L814.4,1394.1 L822.0,1394.8 L829.8,1395.6 L837.8,1396.3 L845.3,1396.9 L852.4,1397.5 L859.1,1397.9 L865.5,1398.2 L871.8,1398.5 L878.2,1398.8 L884.6,1399.0 L891.1,1399.2 L896.0,1399.3 L899.5,1399.2 L901.6,1398.9 L902.1,1398.6 L902.7,1398.0 L903.3,1397.3 L904.0,1396.5 L904.6,1395.5 L905.1,1394.8 L905.4,1394.2 L905.6,1394.0 L905.7,1394.3 L905.9,1394.9 L906.2,1395.9 L906.7,1397.1 L907.1,1398.5 L907.5,1399.9 L907.9,1401.5 L908.3,1403.1 L908.6,1404.4 L908.8,1405.2 L908.9,1405.6 L909.3,1405.7 L910.0,1406.0 L911.2,1406.5 L912.7,1407.1 L914.9,1407.7 L917.6,1408.2 L921.0,1408.6 L925.0,1409.1 L929.5,1409.4 L934.5,1409.7 L940.0,1409.8 L946.0,1409.9 L952.1,1409.9 L958.2,1409.9 L964.4,1409.9 L970.6,1409.8 L976.4,1409.6 L981.6,1409.4 L986.4,1409.0 L990.6,1408.5 L994.8,1408.0 L998.9,1407.5 L1003.0,1407.0 L1007.0,1406.4 L1011.7,1405.9 L1017.1,1405.5 L1023.1,1405.1 L1029.9,1404.8 L1037.1,1404.5 L1044.7,1404.2 L1052.8,1404.0 L1061.2,1403.9 L1075.5,1403.7 L1095.5,1403.6 L1121.2,1403.6 L1152.8,1403.6 L1182.6,1403.6 L1210.9,1403.6 L1237.5,1403.7 L1262.5,1403.7 L1284.4,1403.8 L1303.1,1404.0 L1318.8,1404.2 L1331.2,1404.6 L1350.0,1404.9 L1375.0,1405.3 L1406.2,1405.8 L1443.8,1406.2 L1481.2,1406.7 L1518.8,1407.1 L1556.2,1407.5 L1593.8,1407.9 L1628.1,1408.2 L1659.4,1408.5 L1687.5,1408.7 L1712.5,1409.0 L1736.5,1409.2 L1759.4,1409.4 L1781.3,1409.7 L1802.2,1409.9 L1819.0,1410.0 L1831.8,1409.9 L1840.4,1409.6 L1845.1,1409.2 L1849.8,1408.7 L1854.7,1408.1 L1859.6,1407.4 L1864.8,1406.8 L1870.3,1406.0 L1876.3,1405.2 L1882.8,1404.3 L1889.6,1403.4 L1896.7,1402.4 L1904.1,1401.5 L1911.6,1400.5 L1919.2,1399.4 L1926.8,1398.4 L1934.3,1397.4 L1941.7,1396.4 L1949.1,1395.5 L1956.3,1394.5 L1963.6,1393.5 L1970.9,1392.5 L1978.1,1391.5 L1984.2,1390.5 L1989.1,1389.5 L1992.8,1388.5 L1995.2,1387.5 L1997.7,1386.4 L2000.2,1385.2 L2002.6,1383.9 L2005.1,1382.5 L2007.4,1381.0 L2009.7,1379.4 L2011.8,1377.6 L2013.9,1375.8 L2015.8,1374.0 L2017.6,1372.3 L2019.2,1370.8 L2020.8,1369.2 L2022.1,1368.0 L2023.2,1367.0 L2024.1,1366.2 L2024.9,1365.6 L2025.4,1365.2 L2025.8,1364.9 L2026.0,1364.8 L2026.2,1365.0 L2026.7,1365.3 L2027.3,1365.8 L2028.2,1366.5 L2029.1,1367.2 L2030.1,1368.0 L2031.2,1368.8 L2032.3,1369.7 L2034.2,1370.4 L2036.7,1370.9 L2040.0,1371.3 L2044.0,1371.5 L2048.1,1371.7 L2052.2,1371.9 L2056.4,1372.1 L2060.6,1372.3 L2064.4,1372.7 L2067.6,1373.2 L2070.4,1373.9 L2072.6,1374.7 L2074.9,1375.7 L2077.3,1376.7 L2079.8,1377.9 L2082.2,1379.1 L2085.4,1380.6 L2089.1,1382.4 L2093.5,1384.4 L2098.5,1386.6 L2104.1,1388.7 L2110.2,1390.7 L2116.9,1392.4 L2124.1,1394.1 L2131.4,1395.6 L2138.6,1397.1 L2145.9,1398.5 L2153.1,1399.8 L2160.4,1401.0 L2167.6,1402.1 L2174.9,1403.0 L2182.1,1403.8 L2189.4,1404.6 L2196.8,1405.3 L2204.1,1406.0 L2211.6,1406.6 L2220.1,1407.2 L2229.7,1407.8 L2240.4,1408.4 L2252.3,1409.0 L2264.3,1409.5 L2276.4,1410.0 L2288.8,1410.4 L2301.2,1410.9 L2313.4,1411.2 L2325.3,1411.5 L2336.9,1411.8 L2348.1,1412.0 L2359.6,1412.2 L2371.4,1412.3 L2383.4,1412.5 L2395.6,1412.5 L2404.8,1412.6 L2410.9,1412.7 L2414.0,1412.7"/>
</g>
<g class="b" text-anchor="end">
<text x="367" y="1571.2">-20</text>
<text x="367" y="1327.5">0</text>
<text x="367" y="1083.9">20</text>
<text x="367" y="840.2">40</text>
<text x="367" y="596.5">60</text>
<text x="367" y="352.9">80</text>
<text x="367" y="109.2">100</text>
</g>
<g class="b" text-anchor="middle">
<text x="415.0" y="1665">0</text>
<text x="785.6" y="1665">500</text>
<text x="1156.2" y="1665">1000</text>
<text x="1526.8" y="1665">1500</text>
<text x="1897.4" y="1665">2000</text>
<text x="2268.0" y="1665">2500</text>
</g>
<text class="b" text-anchor="middle" x="1416" y="1820.5" style="letter-spacing:-1px">Time(s)</text>
<text class="b" style="letter-spacing:-.35px" transform="translate(103,1191) rotate(-90)">T<tspan dx="-3.2">emperature(</tspan><tspan class="r" style="font-weight:normal;font-size:76px" dy="7" dx="-1">°</tspan><tspan dy="-7" dx="0">C)</tspan></text>
<rect x="1229" y="236.5" width="202" height="12" fill="#000000"/>
<text class="l" x="1448" y="267.5">20<tspan dy="5.5">°</tspan><tspan dy="-5.5">C-toluene/H<tspan class="n" font-size="50">2</tspan>O</tspan></text>
<rect x="1229" y="343.0" width="202" height="12" fill="#FF0000"/>
<text class="l" x="1448" y="374.3">20<tspan dy="5.5">°</tspan><tspan dy="-5.5">C-<tspan font-style="italic">n</tspan>-hexane/H<tspan class="n" font-size="50">2</tspan>O</tspan></text>
<rect x="1229" y="449.5" width="202" height="12" fill="#0000FF"/>
<text class="l" x="1448" y="481.1">0<tspan dy="5.5">°</tspan><tspan dy="-5.5">C-toluene/H<tspan class="n" font-size="50">2</tspan>O</tspan></text>
<rect x="1229" y="556.0" width="202" height="12" fill="#008080"/>
<text class="l" x="1448" y="587.9">0<tspan dy="5.5">°</tspan><tspan dy="-5.5">C-H<tspan class="n" font-size="50">2</tspan>O</tspan></text>
<rect x="1229" y="662.5" width="202" height="12" fill="#FF00FF"/>
<text class="l" x="1448" y="694.7">0<tspan dy="5.5">°</tspan><tspan dy="-5.5">C-NaCl/H<tspan class="n" font-size="50">2</tspan>O</tspan></text>
<rect x="1229" y="769.0" width="202" height="12" fill="#808000"/>
<text class="l" x="1448" y="801.5">-5<tspan dy="5.5">°</tspan><tspan dy="-5.5">C-toluene/H<tspan class="n" font-size="50">2</tspan>O</tspan></text>
<rect x="1229" y="875.5" width="202" height="12" fill="#E07B06"/>
<text class="l" x="1448" y="908.3">-10<tspan dy="5.5">°</tspan><tspan dy="-5.5">C-NaCl/H<tspan class="n" font-size="50">2</tspan>O</tspan></text>
</g>
</svg></body></html>
